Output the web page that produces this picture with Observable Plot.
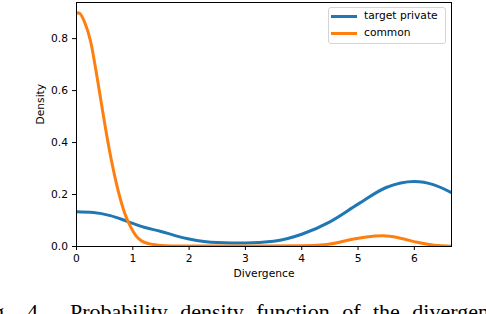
<!DOCTYPE html>
<html><head><meta charset="utf-8">
<script src="https://cdn.jsdelivr.net/npm/d3@7"></script>
<script src="https://cdn.jsdelivr.net/npm/@observablehq/plot@0.6"></script>
<style>
html,body{margin:0;padding:0;background:#fff;}
#wrap{position:relative;width:486px;height:314px;overflow:hidden;background:#fff;}
#wrap svg{position:absolute;left:0;top:0;}
#legend{position:absolute;left:328px;top:7px;width:116px;height:35px;border:1px solid #d4d4d4;border-radius:3px;background:rgba(255,255,255,0.85);font-family:"DejaVu Sans";font-size:10.7px;color:#000;}
.sw{position:absolute;left:2px;width:26px;height:3px;}
.lb{position:absolute;left:35px;line-height:12px;white-space:nowrap;}
.cap{position:absolute;top:301px;white-space:nowrap;font-family:"Liberation Serif";font-size:22px;line-height:22px;color:#000;}
</style>
</head><body>
<div id="wrap"></div>
<script>
// ---- data ----
const seriesNames = ["target private", "common"];
const seriesColors = ["#1f77b4", "#ff7f0e"];

const targetX = [0, 0.3, 0.6, 0.9, 1.2, 1.5, 1.75, 2.0, 2.5, 3.0, 3.5, 4.0, 4.5, 5.0, 5.5, 6.0, 6.35, 6.66];
const targetY = [0.134, 0.131, 0.119, 0.097, 0.074, 0.058, 0.042, 0.029, 0.015, 0.013, 0.020, 0.047, 0.095, 0.163, 0.227, 0.250, 0.237, 0.207];

const commonX = [0, 0.05, 0.15, 0.25, 0.35, 0.45, 0.55, 0.65, 0.75, 0.85, 0.95, 1.05, 1.15, 1.3, 1.45, 1.7, 2.0, 3.0, 4.0, 4.4, 4.7, 4.9, 5.15, 5.45, 5.75, 6.05, 6.35, 6.66];
const commonY = [0.900, 0.898, 0.860, 0.790, 0.672, 0.540, 0.412, 0.300, 0.206, 0.132, 0.080, 0.043, 0.022, 0.010, 0.005, 0.002, 0.002, 0.002, 0.003, 0.007, 0.018, 0.028, 0.037, 0.041, 0.032, 0.016, 0.005, 0.001];

const xTicks = [0, 1, 2, 3, 4, 5, 6];
const yTicks = [0, 0.2, 0.4, 0.6, 0.8];
const xLabel = "Divergence";
const yLabel = "Density";
const captionParts = ["Fig.", "4.", "Probability density function of the divergence"];

// ---- build ----
const target = targetX.map((x, i) => ({x, y: targetY[i]}));
const common = commonX.map((x, i) => ({x, y: commonY[i]}));

const chart = Plot.plot({
  width: 486, height: 290,
  marginLeft: 76, marginRight: 35, marginTop: 2, marginBottom: 44,
  style: {fontFamily: "DejaVu Sans", fontSize: "10.7px", color: "#000", background: "transparent"},
  x: {domain: [0, 6.66]},
  y: {domain: [0, 0.939]},
  marks: [
    Plot.axisX({ticks: xTicks, tickSize: 4, tickPadding: 4, label: null, tickFormat: d => String(d)}),
    Plot.axisY({ticks: yTicks, tickSize: 4, tickPadding: 4.5, label: null, tickFormat: ".1f"}),
    Plot.line(target, {x: "x", y: "y", stroke: seriesColors[0], strokeWidth: 3, curve: "monotone-x", clip: true}),
    Plot.line(common, {x: "x", y: "y", stroke: seriesColors[1], strokeWidth: 3, curve: "monotone-x", clip: true}),
    Plot.frame({stroke: "#000", strokeWidth: 1}),
    Plot.text([xLabel], {text: d => d, frameAnchor: "bottom", dy: 30, fill: "#000"}),
    Plot.text([yLabel], {text: d => d, frameAnchor: "left", dx: -36, rotate: -90, fill: "#000"})
  ]
});
const wrap = document.getElementById("wrap");
wrap.appendChild(chart);

// legend
const lg = document.createElement("div");
lg.id = "legend";
seriesNames.forEach((name, i) => {
  const sw = document.createElement("div");
  sw.className = "sw";
  sw.style.top = (7 + i * 17) + "px";
  sw.style.background = seriesColors[i];
  const lb = document.createElement("div");
  lb.className = "lb";
  lb.style.top = (2 + i * 17) + "px";
  lb.textContent = name;
  lg.appendChild(sw); lg.appendChild(lb);
});
wrap.appendChild(lg);

// caption (cut off at the bottom, as in the reference)
const capLefts = [-25, 27, 70];
captionParts.forEach((t, i) => {
  const s = document.createElement("div");
  s.className = "cap";
  s.style.left = capLefts[i] + "px";
  if (i === 2) s.style.wordSpacing = "7px";
  s.textContent = t;
  wrap.appendChild(s);
});
</script>
</body></html>
